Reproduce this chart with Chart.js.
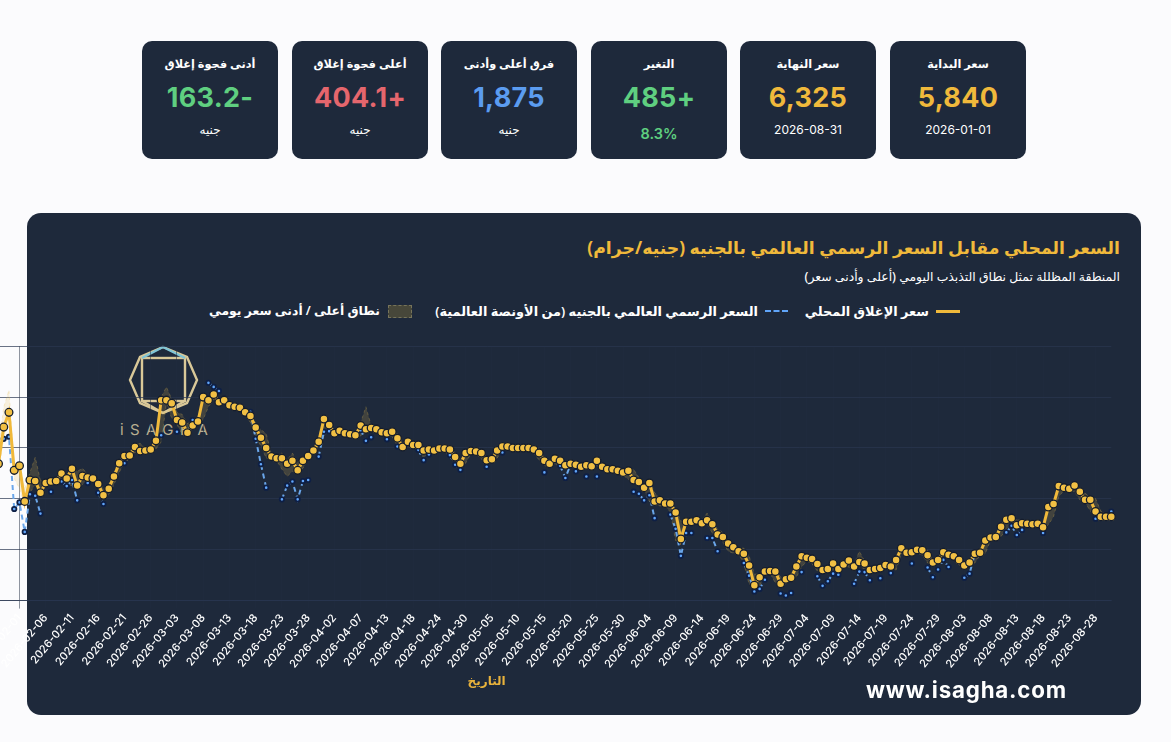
<!DOCTYPE html>
<html lang="ar">
<head>
<meta charset="utf-8">
<title>السعر المحلي</title>
<script src="https://cdn.jsdelivr.net/npm/chart.js@4"></script>
<style>
    html, body { margin: 0; height: 100%; overflow: hidden; background: #fbfbfd; }
    body { font-family: "Noto Sans", "DejaVu Sans", sans-serif; position: relative; width: 1171px; height: 742px; }
    .stat { position: absolute; top: 41px; width: 136px; height: 118px; background: #1e293b; border-radius: 10px; color: #fff; text-align: center; direction: rtl; }
    .stat .name { position: absolute; top: 15px; left: 0; right: 0; font-size: 11.3px; font-weight: 600; }
    .stat .num { position: absolute; top: 40px; left: 0; right: 0; font: 700 27px Inter, sans-serif; letter-spacing: .3px; }
    .stat .sub { position: absolute; top: 81px; left: 0; right: 0; font: 400 12px Inter, "DejaVu Sans", sans-serif; }
    .stat .sub.pct { top: 84px; font-size: 14.5px; font-weight: 600; }
    #panel { position: absolute; left: 27px; top: 213px; width: 1114px; height: 502px; background: #1e293b; border-radius: 14px; }
    .rtl { position: absolute; direction: rtl; white-space: nowrap; }
    #title { right: 51px; top: 236px; font-size: 17.3px; font-weight: 700; color: #f0b93b; z-index: 2; }
    #subtitle { right: 51px; top: 268px; font-size: 12.4px; font-weight: 500; color: #fff; z-index: 2; }
    .legend-text { top: 302px; font-size: 12.9px; font-weight: 600; color: #fff; z-index: 2; }
    .legend-key { position: absolute; z-index: 2; }
    #logo { position: absolute; left: 0; top: 0; z-index: 2; }
    #chart-wrap { position: absolute; left: -190px; top: 336px; width: 1320px; height: 357px; z-index: 3; }
    #site { position: absolute; left: 866px; top: 676px; font: 700 22.3px Inter, sans-serif; letter-spacing: .8px; color: #fff; z-index: 4; }
</style>
</head>
<body>
<div id="stats"></div>
<div id="panel"></div>
<div id="title" class="rtl">السعر المحلي مقابل السعر الرسمي العالمي بالجنيه (جنيه/جرام)</div>
<div id="subtitle" class="rtl">المنطقة المظللة تمثل نطاق التذبذب اليومي (أعلى وأدنى سعر)</div>

<div class="legend-key" style="left:936px;top:310px;width:24px;height:3px;background:#f0b93b"></div>
<div class="rtl legend-text" id="leg-close" style="right:242px"></div>
<div class="legend-key" style="left:765px;top:310px;width:23px;height:0;border-top:2.5px dashed #60a5fa"></div>
<div class="rtl legend-text" id="leg-global" style="right:413px"></div>
<div class="legend-key" style="left:388px;top:305px;width:22px;height:11px;background:#47473a;border:1px dashed #77745a"></div>
<div class="rtl legend-text" id="leg-band" style="right:791px;font-size:12.4px"></div>

<svg id="logo" width="240" height="450" fill="none" stroke-width="2.4">
    <g stroke="#d9c898">
        <polygon points="163,347 187,357 197,380 187,403 163,413 140,403 130,380 140,357"/>
        <rect x="142" y="358" width="43" height="43"/>
        <polyline points="142,401 163,413 185,401"/>
    </g>
    <polyline points="142,358 163,347 185,358" stroke="#7fc4d6"/>
    <text x="120" y="435" fill="#b8ae90" stroke="none" font-family="Inter" font-size="15" letter-spacing="6.4">iSAGHA</text>
</svg>

<div id="chart-wrap"><canvas id="price-chart"></canvas></div>
<div id="site">www.isagha.com</div>

<script>
const $ = document.querySelector.bind(document)

const dates = [
    "2026-01-01","2026-01-02","2026-01-03","2026-01-04","2026-01-05","2026-01-06","2026-01-08","2026-01-09","2026-01-10","2026-01-11",
    "2026-01-12","2026-01-13","2026-01-14","2026-01-15","2026-01-16","2026-01-17","2026-01-18","2026-01-19","2026-01-20","2026-01-21",
    "2026-01-22","2026-01-23","2026-01-24","2026-01-25","2026-01-26","2026-01-27","2026-01-28","2026-01-29","2026-01-30","2026-01-31",
    "2026-02-01","2026-02-02","2026-02-03","2026-02-04","2026-02-05","2026-02-06","2026-02-07","2026-02-08","2026-02-09","2026-02-10",
    "2026-02-11","2026-02-12","2026-02-13","2026-02-14","2026-02-15","2026-02-16","2026-02-17","2026-02-18","2026-02-19","2026-02-20",
    "2026-02-21","2026-02-22","2026-02-23","2026-02-24","2026-02-25","2026-02-26","2026-02-27","2026-02-28","2026-03-01","2026-03-02",
    "2026-03-03","2026-03-04","2026-03-05","2026-03-06","2026-03-07","2026-03-08","2026-03-09","2026-03-10","2026-03-11","2026-03-12",
    "2026-03-13","2026-03-14","2026-03-15","2026-03-16","2026-03-17","2026-03-18","2026-03-19","2026-03-20","2026-03-21","2026-03-22",
    "2026-03-23","2026-03-24","2026-03-25","2026-03-26","2026-03-27","2026-03-28","2026-03-29","2026-03-30","2026-03-31","2026-04-01",
    "2026-04-02","2026-04-03","2026-04-04","2026-04-05","2026-04-06","2026-04-07","2026-04-08","2026-04-09","2026-04-11","2026-04-12",
    "2026-04-13","2026-04-14","2026-04-15","2026-04-16","2026-04-17","2026-04-18","2026-04-19","2026-04-20","2026-04-22","2026-04-23",
    "2026-04-24","2026-04-25","2026-04-27","2026-04-28","2026-04-29","2026-04-30","2026-05-01","2026-05-02","2026-05-03","2026-05-04",
    "2026-05-05","2026-05-06","2026-05-07","2026-05-08","2026-05-09","2026-05-10","2026-05-11","2026-05-12","2026-05-13","2026-05-14",
    "2026-05-15","2026-05-16","2026-05-17","2026-05-18","2026-05-19","2026-05-20","2026-05-21","2026-05-22","2026-05-23","2026-05-24",
    "2026-05-25","2026-05-26","2026-05-27","2026-05-28","2026-05-29","2026-05-30","2026-05-31","2026-06-01","2026-06-02","2026-06-03",
    "2026-06-04","2026-06-05","2026-06-06","2026-06-07","2026-06-08","2026-06-09","2026-06-10","2026-06-11","2026-06-12","2026-06-13",
    "2026-06-14","2026-06-15","2026-06-16","2026-06-17","2026-06-18","2026-06-19","2026-06-20","2026-06-21","2026-06-22","2026-06-23",
    "2026-06-24","2026-06-25","2026-06-26","2026-06-27","2026-06-28","2026-06-29","2026-06-30","2026-07-01","2026-07-02","2026-07-03",
    "2026-07-04","2026-07-05","2026-07-06","2026-07-07","2026-07-08","2026-07-09","2026-07-10","2026-07-11","2026-07-12","2026-07-13",
    "2026-07-14","2026-07-15","2026-07-16","2026-07-17","2026-07-18","2026-07-19","2026-07-20","2026-07-21","2026-07-22","2026-07-23",
    "2026-07-24","2026-07-25","2026-07-26","2026-07-27","2026-07-28","2026-07-29","2026-07-30","2026-07-31","2026-08-01","2026-08-02",
    "2026-08-03","2026-08-04","2026-08-05","2026-08-06","2026-08-07","2026-08-08","2026-08-09","2026-08-10","2026-08-11","2026-08-12",
    "2026-08-13","2026-08-14","2026-08-15","2026-08-16","2026-08-17","2026-08-18","2026-08-19","2026-08-20","2026-08-21","2026-08-22",
    "2026-08-23","2026-08-24","2026-08-25","2026-08-26","2026-08-27","2026-08-28","2026-08-29","2026-08-30","2026-08-31"
]

// january is mostly off the page, only the first close and the last days can be read
const closeJan = [5840,null,null,null,null,null,null,null,null,null,null,null,null,null,null,null,null,null,null,null,null,null,null,null,null,6530,6845,7205,7350,6780]
const closeRest = [
    6825,6475,6685,6675,6560,6655,6670,6675,6750,6700,
    6795,6630,6725,6710,6700,6645,6535,6600,6720,6850,
    6920,6925,7010,6970,6975,6985,7070,7470,7470,7440,
    7275,7250,7150,7220,7260,7500,7470,7525,7450,7470,
    7420,7405,7395,7350,7315,7200,7100,7000,6915,6900,
    6900,6845,6875,6780,6875,6920,6975,7060,7285,7225,
    7145,7170,7145,7135,7125,7220,7185,7195,7185,7155,
    7145,7160,7095,7010,7060,7030,7030,6975,6985,6975,
    6995,6995,6985,6910,6845,6950,6970,6965,6950,6880,
    6890,6975,7015,7015,7000,7000,7000,7000,6985,6950,
    6875,6845,6895,6875,6830,6845,6835,6815,6830,6820,
    6875,6815,6790,6790,6775,6760,6775,6685,6665,6610,
    6655,6475,6485,6455,6455,6365,6105,6275,6275,6290,
    6260,6290,6250,6150,6125,6060,6025,5985,5960,5845,
    5650,5730,5785,5790,5785,5665,5710,5725,5835,5935,
    5920,5910,5860,5800,5810,5865,5810,5855,5895,5835,
    5880,5865,5800,5810,5820,5850,5835,5900,6015,5970,
    5975,6000,5995,5945,5875,5900,5975,5950,5935,5900,
    5845,5875,5960,5970,6090,6120,6125,6225,6295,6310,
    6240,6260,6255,6250,6255,6220,6420,6450,6625,6610,
    6600,6630,6570,6490,6490,6375,6325,6325,6325
]

// null where the dot can't be seen behind the local close
const globalJan = [null,null,null,null,null,null,null,null,null,null,null,null,null,null,null,null,null,null,null,null,null,null,null,null,null,null,null,7090,7110,6400]
const globalRest = [
    6465,6175,6545,6530,6355,null,6570,null,6670,6625,
    6685,6485,null,6655,null,6560,6450,null,null,null,
    6850,null,null,null,null,null,null,7125,null,null,
    7160,null,null,7275,null,null,7640,7600,7560,null,
    null,null,null,null,7355,7090,6840,6610,null,null,
    6495,6630,6670,6495,6675,6685,null,6915,7160,7165,
    null,null,null,null,null,7175,7070,7105,null,null,
    7085,null,7015,null,null,null,6980,6880,6935,null,
    null,null,6930,6835,6785,null,null,null,null,6815,
    null,null,6955,null,null,null,null,null,null,null,
    6760,null,null,6825,6705,6840,6770,null,6720,null,
    6720,null,null,null,null,null,null,6570,6550,6485,
    6535,6310,null,null,6345,6205,5940,6165,6165,null,
    null,6115,6115,5985,null,null,null,null,5870,5745,
    5590,5615,5705,null,null,5570,5550,5575,null,5780,
    null,null,5740,5645,5690,5765,5755,null,null,5665,
    5785,5780,5700,null,5720,null,5770,null,null,null,
    5865,null,null,5825,5730,5805,5900,5830,null,null,
    5725,5765,5960,null,null,null,null,null,6170,6235,
    6145,6195,null,null,null,6165,null,null,null,null,
    null,null,null,null,null,6305,null,null,6375
]

const highJan = [null,null,null,null,null,null,null,null,null,null,null,null,null,null,null,null,null,null,null,null,null,null,null,null,null,6650,7000,7400,7570,6830]
const highRest = [
    6860,6600,6760,6910,6680,6690,6700,6700,6775,6730,
    6820,6770,6800,6740,6730,6680,6600,6640,6760,6880,
    6945,6960,7040,7045,7000,7010,7110,7500,7600,7480,
    7350,7330,7240,7260,7300,7510,7490,7540,7475,7495,
    7440,7425,7415,7375,7340,7240,7180,7140,6945,6930,
    6950,6880,6950,6860,6900,6950,7010,7100,7300,7250,
    7170,7195,7170,7160,7150,7250,7405,7220,7210,7180,
    7170,7185,7140,7050,7085,7055,7055,7010,7010,7000,
    7020,7020,7010,6960,6880,6975,6995,6990,6975,6910,
    6915,7000,7040,7040,7025,7025,7025,7025,7020,6990,
    6910,6875,6920,6900,6855,6870,6860,6840,6855,6845,
    6900,6850,6815,6815,6800,6785,6800,6790,6710,6640,
    6680,6560,6510,6480,6480,6400,6280,6300,6300,6320,
    6290,6360,6280,6200,6170,6090,6055,6015,6015,5940,
    5760,5760,5810,5815,5810,5730,5735,5760,5860,5960,
    5945,5935,5885,5830,5835,5890,5835,5880,5920,5860,
    5985,5890,5825,5835,5845,5875,5860,5930,6040,5995,
    6000,6025,6020,5995,5900,5925,6000,5975,5960,5925,
    5870,5900,5985,6000,6115,6145,6150,6250,6320,6335,
    6300,6285,6280,6275,6280,6250,6445,6475,6650,6635,
    6625,6655,6600,6555,6515,6505,6380,6350,6350
]

const lowJan = [null,null,null,null,null,null,null,null,null,null,null,null,null,null,null,null,null,null,null,null,null,null,null,null,null,6400,6750,7100,7280,6700]
const lowRest = [
    6600,6450,6560,6640,6530,6630,6645,6650,6690,6640,
    6630,6600,6640,6685,6670,6600,6510,6535,6640,6760,
    6860,6890,6960,6945,6950,6960,6990,7060,7440,7290,
    7230,7130,7120,7190,7230,7280,7405,7480,7420,7440,
    7390,7380,7365,7320,7250,7100,7020,6900,6885,6875,
    6790,6720,6770,6750,6800,6890,6940,7020,7110,7190,
    7120,7140,7120,7110,7100,7120,7155,7170,7160,7125,
    7110,7110,7020,6985,7010,7000,7000,6900,6955,6950,
    6970,6970,6900,6860,6820,6850,6945,6940,6890,6855,
    6860,6900,6985,6990,6975,6975,6975,6975,6950,6880,
    6825,6820,6840,6820,6805,6815,6810,6790,6805,6795,
    6825,6790,6765,6765,6750,6735,6690,6660,6640,6585,
    6475,6450,6430,6430,6370,6090,6085,6250,6250,6260,
    6235,6260,6160,6125,6070,5985,5965,5955,5865,5660,
    5625,5640,5760,5765,5675,5640,5660,5700,5730,5830,
    5890,5860,5790,5775,5785,5800,5785,5825,5830,5810,
    5855,5800,5775,5785,5795,5825,5810,5800,5960,5945,
    5950,5970,5945,5870,5850,5875,5900,5925,5900,5850,
    5820,5850,5870,5945,5960,6095,6100,6130,6200,6240,
    6210,6235,6230,6225,6230,6195,6245,6325,6520,6585,
    6575,6570,6490,6465,6380,6325,6300,6300,6300
]

const seriesNames = ["سعر الإغلاق المحلي", "السعر الرسمي العالمي بالجنيه (من الأونصة العالمية)", "نطاق أعلى / أدنى سعر يومي"]
const axisTitle = "التاريخ"

const statNames = ["سعر البداية", "سعر النهاية", "التغير", "فرق أعلى وأدنى", "أعلى فجوة إغلاق", "أدنى فجوة إغلاق"]
const statValues = ["5,840", "6,325", "+485", "1,875", "+404.1", "-163.2"]
const statNotes = ["2026-01-01", "2026-08-31", "8.3%", "جنيه", "جنيه", "جنيه"]
const statColors = ["#f0b93b", "#f0b93b", "#5fcf80", "#5b9cf0", "#e5666d", "#5fcf80"]
const statLefts = [890, 740, 591, 441, 292, 142]

statNames.forEach((name, i) => {
    const card = document.createElement("div")
    card.className = "stat"
    card.style.left = `${statLefts[i]}px`
    card.innerHTML = `<div class="name">${name}</div><div class="num" style="color:${statColors[i]}">${statValues[i]}</div><div class="sub">${statNotes[i]}</div>`
    if (i === 2) {
        card.querySelector(".sub").classList.add("pct")
        card.querySelector(".sub").style.color = statColors[i]
    }
    $("#stats").appendChild(card)
})

$("#leg-close").innerText = seriesNames[0]
$("#leg-global").innerText = seriesNames[1]
$("#leg-band").innerText = seriesNames[2]

new Chart($("#price-chart"), {
    type: "line",
    data: {
        labels: dates,
        datasets: [
            {
                label: seriesNames[0],
                data: [...closeJan, ...closeRest],
                borderColor: "#f0b93b",
                borderWidth: 3,
                pointRadius: 3.9,
                pointBackgroundColor: "#f2c044",
                pointBorderColor: "#141c2c",
                pointBorderWidth: 1.3,
                order: 0,
            },
            {
                label: seriesNames[1],
                data: [...globalJan, ...globalRest],
                borderColor: "#6aa6ea",
                borderWidth: 2,
                borderDash: [5, 4],
                pointRadius: 2.2,
                pointBackgroundColor: "#60a5fa",
                pointBorderColor: "#0e1f45",
                pointBorderWidth: 1.8,
                order: 1,
            },
            {
                label: "high",
                data: [...highJan, ...highRest],
                borderColor: "rgba(234, 190, 80, 0.25)",
                borderWidth: 1,
                borderDash: [3, 3],
                pointRadius: 0,
                backgroundColor: "rgba(234, 190, 80, 0.18)",
                fill: "+1",
                order: 2,
            },
            {
                label: "low",
                data: [...lowJan, ...lowRest],
                borderColor: "rgba(234, 190, 80, 0.25)",
                borderWidth: 1,
                borderDash: [3, 3],
                pointRadius: 0,
                order: 3,
            },
        ]
    },
    options: {
        responsive: true,
        maintainAspectRatio: false,
        animation: false,
        layout: { padding: { right: 18.7 } },
        scales: {
            x: {
                afterFit: scale => { scale.height = 92.4 },
                grid: { color: "#212c40", lineWidth: 0.5 },
                border: { color: "#2a3650", width: 0.7 },
                title: {
                    display: true,
                    text: axisTitle,
                    color: "#e8b23c",
                    font: { size: 12, weight: "bold", family: "Noto Sans, DejaVu Sans" },
                },
                ticks: {
                    autoSkip: false,
                    minRotation: 50,
                    maxRotation: 50,
                    color: "#ffffff",
                    font: { size: 11, weight: "500", family: "Inter" },
                    callback: function(value, index) {
                        return index % 5 === 0 ? this.getLabelForValue(value) : null
                    },
                },
            },
            y: {
                min: 5500,
                max: 8000,
                afterFit: scale => { scale.width = 52 },
                grid: { color: "#2a3650", lineWidth: 0.7 },
                ticks: {
                    stepSize: 500,
                    color: "#ffffff",
                    font: { size: 12, family: "Inter" },
                },
            },
        },
        plugins: {
            legend: { display: false },
        },
    },
})
</script>
</body>
</html>
